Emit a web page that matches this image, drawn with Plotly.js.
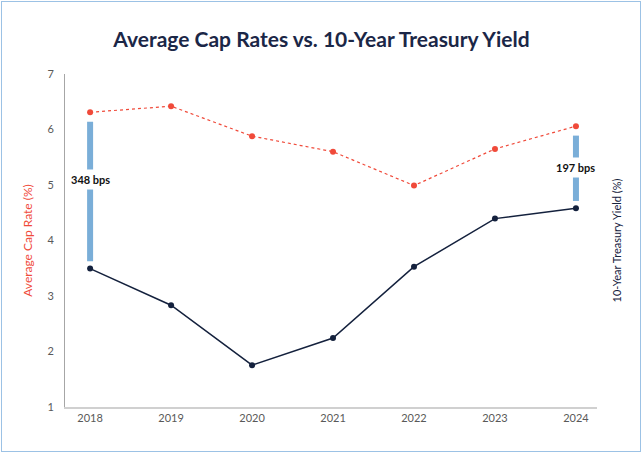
<!DOCTYPE html>
<html>
<head>
<meta charset="utf-8">
<script src="https://cdn.plot.ly/plotly-3.0.1.min.js"></script>
<style>
  html, body { margin: 0; padding: 0; background: #fff; }
  #wrap { position: relative; width: 643px; height: 454px; }
  #chart { width: 643px; height: 454px; }
  #frame { position: absolute; left: 1px; top: 1px; width: 638px; height: 449px;
           border: 1.5px solid #9cc2e5; pointer-events: none; }
</style>
</head>
<body>
<div id="wrap"><div id="chart"></div><div id="frame"></div></div>
<script>
// ---- data ----
const years = ['2018', '2019', '2020', '2021', '2022', '2023', '2024'];
const capRate = [6.31, 6.42, 5.88, 5.60, 4.99, 5.65, 6.06];
const treasury = [2.91, 2.14, 0.88, 1.45, 2.95, 3.96, 4.18];
const spreadYears = ['2018', '2024'];
const spreadLabels = ['348 bps', '197 bps'];

// axis ranges
const yRange = [1, 7];
const y2Range = [0, 7];

// convert treasury (y2) value into primary-axis units
function toPrimary(v) {
  return yRange[0] + (v - y2Range[0]) * (yRange[1] - yRange[0]) / (y2Range[1] - y2Range[0]);
}

const spreadX = [], spreadY = [];
const annotations = [];
const labelShift = [0.2, 0];
spreadYears.forEach((yr, k) => {
  const i = years.indexOf(yr);
  const top = capRate[i] - 0.17;
  const bot = toPrimary(treasury[i]) + 0.13;
  spreadX.push(yr, yr, null);
  spreadY.push(bot, top, null);
  annotations.push({
    x: i, y: (capRate[i] + toPrimary(treasury[i])) / 2 + labelShift[k],
    xref: 'x', yref: 'y', text: '<b>' + spreadLabels[k] + '</b>',
    showarrow: false, bgcolor: '#ffffff', borderpad: 3,
    font: { family: 'Lato, sans-serif', size: 11, color: '#111111' }
  });
});

const traces = [
  {
    x: years, y: capRate, type: 'scatter', mode: 'lines+markers', name: 'Average Cap Rate',
    line: { color: '#f04a3a', width: 1.2, dash: 'dot' },
    marker: { color: '#f04a3a', size: 6 }, showlegend: false
  },
  {
    x: spreadX, y: spreadY, type: 'scatter', mode: 'lines',
    line: { color: '#7aaed8', width: 6 }, hoverinfo: 'skip', showlegend: false
  },
  {
    x: years, y: treasury, yaxis: 'y2', type: 'scatter', mode: 'lines+markers', name: '10-Year Treasury Yield',
    line: { color: '#14213d', width: 1.5 },
    marker: { color: '#14213d', size: 6 }, showlegend: false
  }
];

const layout = {
  width: 643, height: 454,
  margin: { l: 65, r: 46, t: 74, b: 47 },
  paper_bgcolor: '#ffffff', plot_bgcolor: '#ffffff',
  font: { family: 'Lato, sans-serif', color: '#595959', size: 11 },
  title: {
    text: '<b>Average Cap Rates vs. 10-Year Treasury Yield</b>',
    font: { family: 'Lato, sans-serif', size: 21, color: '#1b2747' },
    x: 0.5, xanchor: 'center', y: 0.912, yanchor: 'middle'
  },
  xaxis: {
    type: 'category', categoryorder: 'array', categoryarray: years,
    range: [-0.31, 6.26],
    showgrid: false, zeroline: false,
    showline: true, linecolor: '#d0d0d0', linewidth: 2,
    ticks: '', tickfont: { size: 11, color: '#595959' }
  },
  yaxis: {
    range: yRange, dtick: 1, showgrid: false, zeroline: false,
    showline: true, linecolor: '#a6a6a6', linewidth: 1,
    ticks: '', ticklabelstandoff: 8,
    tickfont: { size: 11, color: '#595959' },
    title: { text: 'Average Cap Rate (%)', standoff: 12,
             font: { size: 12, color: '#f04a3a' } }
  },
  yaxis2: {
    overlaying: 'y', side: 'right', range: y2Range,
    showgrid: false, zeroline: false, showline: false,
    showticklabels: false, ticks: '',
    title: { text: '10-Year Treasury Yield (%)', standoff: 16,
             font: { size: 11, color: '#14213d' } }
  },
  annotations: annotations,
  showlegend: false
};

Plotly.newPlot('chart', traces, layout, { displayModeBar: false, staticPlot: true });
</script>
</body>
</html>
